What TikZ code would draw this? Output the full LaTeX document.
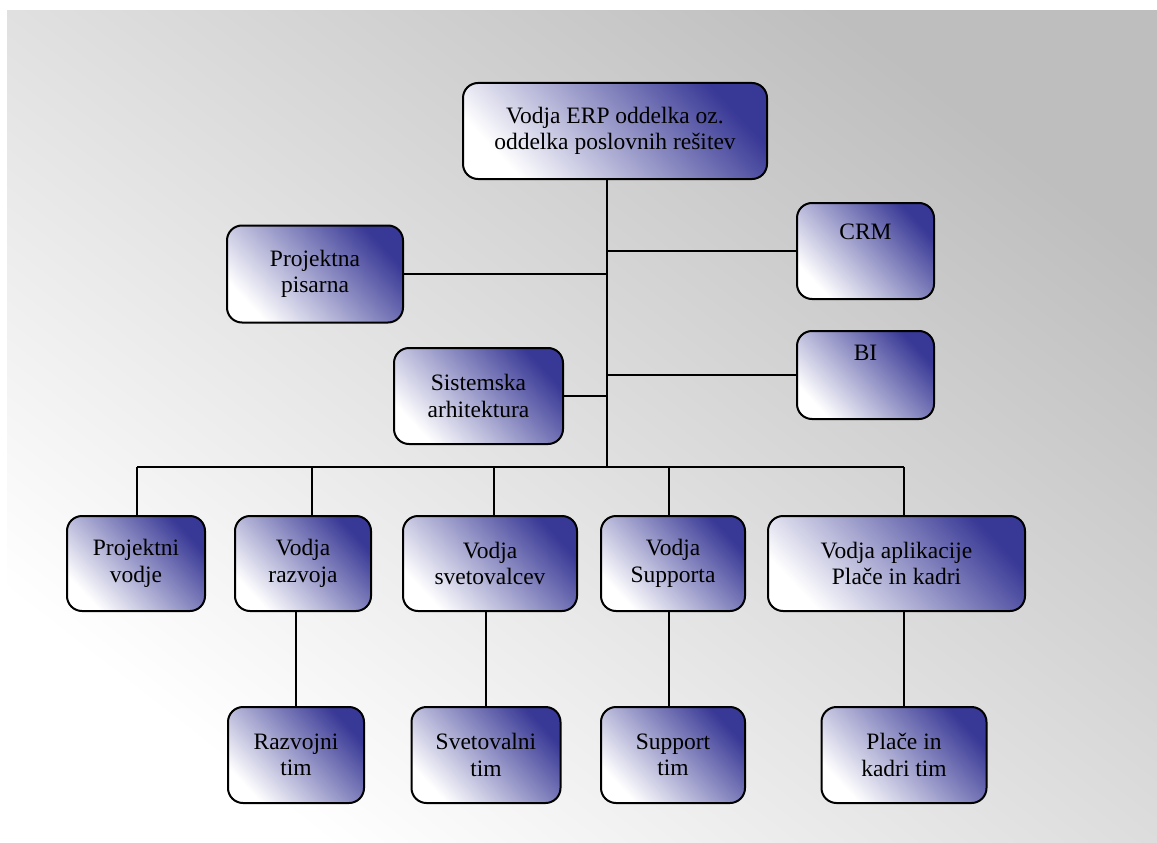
\documentclass[tikz,border=0pt]{standalone}
\usepackage{fontspec}
\setmainfont{Liberation Serif}
\usetikzlibrary{calc}

\definecolor{boxdark}{RGB}{56,56,150}
\definecolor{bggray}{RGB}{190,190,190}
\newcommand{\orgfont}{\fontsize{23.5}{26.5}\selectfont}

\tikzset{
  orgbox/.style={draw=black, line width=2pt, rounded corners=15pt,
    top color=boxdark, bottom color=white, shading angle=-47,
    align=center, inner sep=0pt, font=\orgfont, text=black},
  boxtext/.style={align=center, inner sep=0pt, font=\orgfont, text=black},
  link/.style={draw=black, line width=2pt},
}

\begin{document}
\begin{tikzpicture}[x=1pt, y=-1pt]
  \useasboundingbox (0,0) rectangle (1157,843);
  % grey backdrop
  \shade[top color=bggray, bottom color=white, shading angle=-38]
    (7,11) rectangle (1157,843);

  % head of department
  \node[orgbox, minimum width=304pt, minimum height=96pt] (head) at (615,131)
    {Vodja ERP oddelka oz.\\oddelka poslovnih rešitev};

  % staff units beside the spine
  \node[orgbox, minimum width=176pt, minimum height=97pt] (pisarna) at (315,274)
    {Projektna\\pisarna};
  \node[orgbox, minimum width=137pt, minimum height=96pt] (crm) at (865.5,251) {};
  \node[boxtext] (crmtext) at (865.5,232) {CRM};
  \node[orgbox, minimum width=169pt, minimum height=96pt] (arh) at (478.5,396)
    {Sistemska\\arhitektura};
  \node[orgbox, minimum width=137pt, minimum height=88pt] (bi) at (865.5,375) {};
  \node[boxtext] (bitext) at (865.5,353) {BI};

  % leaders
  \node[orgbox, minimum width=138pt, minimum height=95pt] (pv) at (136,563.5)
    {Projektni\\vodje};
  \node[orgbox, minimum width=136pt, minimum height=95pt] (vr) at (303,563.5)
    {Vodja\\razvoja};
  \node[orgbox, minimum width=174pt, minimum height=95pt] (vs) at (490,563.5)
    {Vodja\\svetovalcev};
  \node[orgbox, minimum width=144pt, minimum height=95pt] (vsup) at (673,563.5)
    {Vodja\\Supporta};
  \node[orgbox, minimum width=257pt, minimum height=95pt] (va) at (896.5,563.5)
    {Vodja aplikacije\\Plače in kadri};

  % teams
  \node[orgbox, minimum width=136pt, minimum height=96pt] (rt) at (296,755)
    {Razvojni\\tim};
  \node[orgbox, minimum width=149pt, minimum height=96pt] (st) at (486,755)
    {Svetovalni\\tim};
  \node[orgbox, minimum width=144pt, minimum height=96pt] (sut) at (673,755)
    {Support\\tim};
  \node[orgbox, minimum width=165pt, minimum height=96pt] (pkt) at (904,755)
    {Plače in\\kadri tim};

  % spine and bus
  \coordinate (bus) at (607,467);
  \coordinate (busL) at (137,467);
  \coordinate (busR) at (904,467);
  \coordinate (d2) at (312,467);
  \coordinate (d3) at (494,467);
  \coordinate (d4) at (669,467);

  \draw[link] (head.south -| bus) -- (bus);
  \draw[link] (busL) -- (busR);
  \draw[link] (pisarna.east) -- (pisarna.east -| bus);
  \draw[link] (crm.west) -- (crm.west -| bus);
  \draw[link] (arh.east) -- (arh.east -| bus);
  \draw[link] (bi.west) -- (bi.west -| bus);

  \draw[link] (busL) -- (busL |- pv.north);
  \draw[link] (d2) -- (d2 |- vr.north);
  \draw[link] (d3) -- (d3 |- vs.north);
  \draw[link] (d4) -- (d4 |- vsup.north);
  \draw[link] (busR) -- (busR |- va.north);

  \draw[link] (rt.north) -- (rt.north |- vr.south);
  \draw[link] (st.north) -- (st.north |- vs.south);
  \draw[link] (d4 |- sut.north) -- (d4 |- vsup.south);
  \draw[link] (pkt.north) -- (pkt.north |- va.south);
\end{tikzpicture}
\end{document}
